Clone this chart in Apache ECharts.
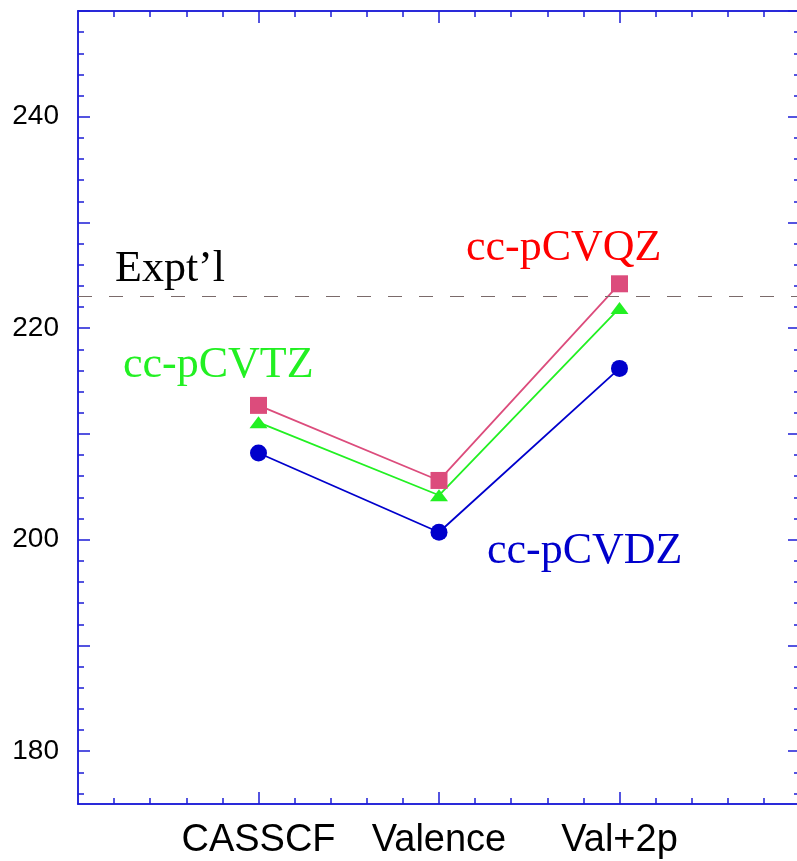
<!DOCTYPE html>
<html>
<head>
<meta charset="utf-8">
<script src="https://cdn.jsdelivr.net/npm/echarts@6/dist/echarts.min.js"></script>
<style>
  html, body { margin: 0; padding: 0; background: #fff; }
  #chart { width: 797px; height: 861px; }
</style>
</head>
<body>
<div id="chart"></div>
<script>
// Method categories along the x axis (placed at x = 1, 2, 3)
const categories = ['CASSCF', 'Valence', 'Val+2p'];
// Basis-set results
const dzValues = [208.2, 200.7, 216.2];
const tzValues = [211.1, 204.2, 221.9];
const qzValues = [212.7, 205.6, 224.2];
// Experimental reference value
const exptValue = 223.0;
// Tick labels and tick positions
const yLabelValues = [180, 200, 220, 240];
const yMajorTicks = [180, 190, 200, 210, 220, 230, 240, 250];
const yMinorTicks = [176, 178, 182, 184, 186, 188, 192, 194, 196, 198, 202, 204, 206, 208,
  212, 214, 216, 218, 222, 224, 226, 228, 232, 234, 236, 238, 242, 244, 246, 248];
const xLabelValues = [1, 2, 3];
const xMinorTicks = [0.2, 0.4, 0.6, 0.8, 1.2, 1.4, 1.6, 1.8, 2.2, 2.4, 2.6, 2.8, 3.2, 3.4, 3.6, 3.8];

const AXIS_COLOR = '#1c1cd6';
const X_MIN = 0, X_MAX = 4, Y_MIN = 175, Y_MAX = 250;

const chart = echarts.init(document.getElementById('chart'), null, { renderer: 'canvas' });

// Plot frame; its right edge sits just past the canvas edge
const gridRect = { left: 78, top: 11, width: 722, height: 793 };

function toPairs(values) {
  return values.map((v, i) => [i + 1, v]);
}

function xAxisDef(gridIndex, position, ticks, tickLen, withLabels) {
  return {
    type: 'value', gridIndex, position, min: X_MIN, max: X_MAX,
    axisLine: { show: true, onZero: false, lineStyle: { color: AXIS_COLOR, width: 1.5 } },
    axisTick: { show: true, inside: true, length: tickLen, customValues: ticks,
      lineStyle: { color: AXIS_COLOR, width: 1.5 } },
    axisLabel: withLabels ? {
      show: true, customValues: xLabelValues, margin: 18,
      formatter: v => categories[Math.round(v) - 1] || '',
      color: '#000', fontSize: 38, fontFamily: '"Liberation Sans", Arial, sans-serif'
    } : { show: false },
    splitLine: { show: false }
  };
}

function yAxisDef(gridIndex, position, ticks, tickLen, withLabels) {
  return {
    type: 'value', gridIndex, position, min: Y_MIN, max: Y_MAX,
    axisLine: { show: true, onZero: false, lineStyle: { color: AXIS_COLOR, width: 1.5 } },
    axisTick: { show: true, inside: true, length: tickLen, customValues: ticks,
      lineStyle: { color: AXIS_COLOR, width: 1.5 } },
    axisLabel: withLabels ? {
      show: true, customValues: yLabelValues, margin: 19,
      color: '#000', fontSize: 28, fontFamily: '"Liberation Sans", Arial, sans-serif'
    } : { show: false },
    splitLine: { show: false }
  };
}

const serifFont = '44px "Liberation Serif", "Times New Roman", serif';

chart.setOption({
  animation: false,
  backgroundColor: '#fff',
  grid: [
    Object.assign({ outerBoundsMode: 'none' }, gridRect),
    Object.assign({ outerBoundsMode: 'none' }, gridRect)
  ],
  xAxis: [
    xAxisDef(0, 'bottom', xMinorTicks, 6, true),
    xAxisDef(0, 'top', xMinorTicks, 6, false),
    xAxisDef(1, 'bottom', xLabelValues, 12, false),
    xAxisDef(1, 'top', xLabelValues, 12, false)
  ],
  yAxis: [
    yAxisDef(0, 'left', yMinorTicks, 6, true),
    yAxisDef(0, 'right', yMinorTicks, 6, false),
    yAxisDef(1, 'left', yMajorTicks, 12, false),
    yAxisDef(1, 'right', yMajorTicks, 12, false)
  ],
  series: [
    {
      name: 'cc-pCVDZ', type: 'line', xAxisIndex: 0, yAxisIndex: 0,
      data: toPairs(dzValues),
      symbol: 'circle', symbolSize: 17,
      lineStyle: { color: '#0000cc', width: 1.8 },
      itemStyle: { color: '#0000cc' },
      markLine: {
        silent: true, symbol: 'none', label: { show: false },
        lineStyle: { color: '#7a6a6a', width: 1, type: [14, 17] },
        data: [{ yAxis: exptValue }]
      }
    },
    {
      name: 'cc-pCVTZ', type: 'line', xAxisIndex: 0, yAxisIndex: 0,
      data: toPairs(tzValues),
      symbol: 'triangle', symbolSize: [18, 12],
      lineStyle: { color: '#22f022', width: 1.8 },
      itemStyle: { color: '#22f022' }
    },
    {
      name: 'cc-pCVQZ', type: 'line', xAxisIndex: 0, yAxisIndex: 0,
      data: toPairs(qzValues),
      symbol: 'rect', symbolSize: 17,
      lineStyle: { color: '#dc4c7c', width: 1.8 },
      itemStyle: { color: '#dc4c7c' }
    }
  ],
  graphic: [
    { type: 'text', x: 115, y: 269, style: { text: 'Expt\u2019l', font: serifFont, fill: '#000', verticalAlign: 'middle' } },
    { type: 'text', x: 123, y: 365, style: { text: 'cc-pCVTZ', font: serifFont, fill: '#22f022', verticalAlign: 'middle' } },
    { type: 'text', x: 466, y: 248, style: { text: 'cc-pCVQZ', font: serifFont, fill: '#ff0000', verticalAlign: 'middle' } },
    { type: 'text', x: 487, y: 551, style: { text: 'cc-pCVDZ', font: serifFont, fill: '#0000cc', verticalAlign: 'middle' } }
  ]
});
</script>
</body>
</html>
